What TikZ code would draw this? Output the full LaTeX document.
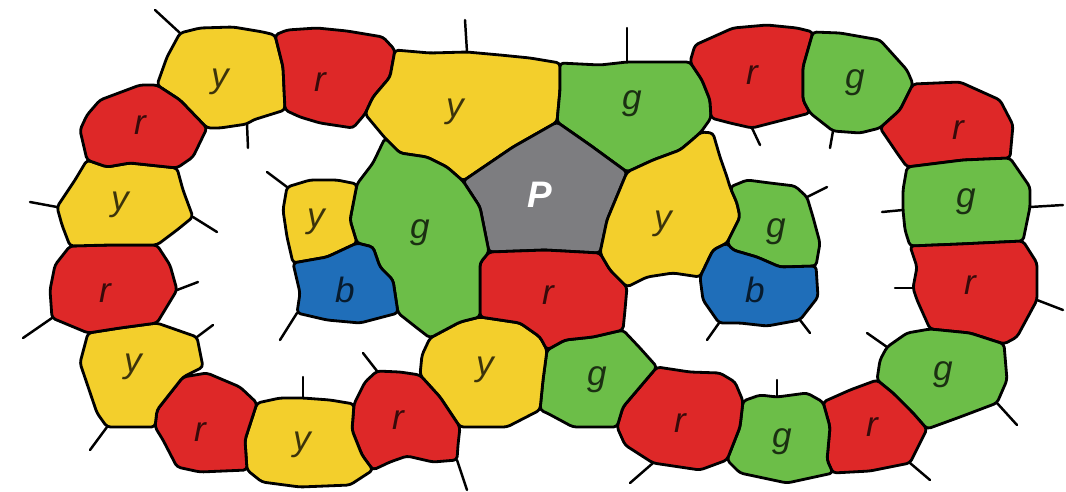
\documentclass[tikz,border=0pt]{standalone}
\usepackage{fontspec}
\newfontfamily\mapfont{Liberation Sans}
\usepackage{tikz}

\definecolor{ylw}{RGB}{243,207,44}
\definecolor{red}{RGB}{222,40,40}
\definecolor{grn}{RGB}{108,190,72}
\definecolor{blu}{RGB}{31,110,185}
\definecolor{gry}{RGB}{125,125,128}

\begin{document}
\begin{tikzpicture}[
    x=0.02cm, y=-0.02cm,
    region/.style={draw=black, line width=1.6pt, line join=round, rounded corners=2pt},
    tick/.style={draw=black, line width=1.4pt, line cap=round},
    lbl/.style={font=\mapfont\itshape\fontsize{20}{24}\selectfont, text=black, text opacity=0.75, inner sep=0pt}
]
    \useasboundingbox (0,0) rectangle (1066,491);

    % Junctions where regions meet
    \coordinate (j1) at (275,35);   \coordinate (j2) at (285,110);
    \coordinate (j3) at (157,85);   \coordinate (j4) at (207,128);
    \coordinate (j5) at (395,50);   \coordinate (j6) at (365,114);
    \coordinate (j7) at (385,138);  \coordinate (j8) at (463,181);
    \coordinate (j9) at (557,122);  \coordinate (j10) at (560,63);
    \coordinate (j11) at (690,62);  \coordinate (j12) at (711,118);
    \coordinate (j13) at (701,132); \coordinate (j14) at (627,172);
    \coordinate (j15) at (600,253); \coordinate (j16) at (489,252);
    \coordinate (j17) at (627,287); \coordinate (j18) at (623,330);
    \coordinate (j19) at (547,350); \coordinate (j20) at (480,317);
    \coordinate (j21) at (430,338); \coordinate (j22) at (398,313);
    \coordinate (j23) at (357,243); \coordinate (j24) at (357,184);
    \coordinate (j25) at (293,263); \coordinate (j26) at (730,187);
    \coordinate (j27) at (727,243); \coordinate (j28) at (700,277);
    \coordinate (j29) at (816,266); \coordinate (j30) at (813,32);
    \coordinate (j31) at (810,113); \coordinate (j32) at (913,84);
    \coordinate (j33) at (880,128); \coordinate (j34) at (907,167);
    \coordinate (j35) at (1010,158);\coordinate (j36) at (910,246);
    \coordinate (j37) at (1023,241);\coordinate (j38) at (930,329);
    \coordinate (j39) at (1004,344);\coordinate (j40) at (877,380);
    \coordinate (j41) at (927,429); \coordinate (j42) at (823,402);
    \coordinate (j43) at (833,473); \coordinate (j44) at (743,401);
    \coordinate (j45) at (727,460); \coordinate (j46) at (657,367);
    \coordinate (j47) at (617,427); \coordinate (j48) at (540,410);
    \coordinate (j49) at (420,375); \coordinate (j50) at (460,427);
    \coordinate (j51) at (354,404); \coordinate (j52) at (373,470);
    \coordinate (j53) at (257,403); \coordinate (j54) at (247,470);
    \coordinate (j55) at (183,377); \coordinate (j56) at (155,427);
    \coordinate (j57) at (88,333);  \coordinate (j58) at (157,323);
    \coordinate (j59) at (70,246);  \coordinate (j60) at (157,245);
    \coordinate (j61) at (87,160);  \coordinate (j62) at (177,168);

    % Roots of the open borders
    \coordinate (t1) at (180,33);   \coordinate (t2) at (247,124);
    \coordinate (t3) at (467,52);   \coordinate (t4) at (627,62);
    \coordinate (t5) at (752,128);  \coordinate (t6) at (833,131);
    \coordinate (t7) at (903,210);  \coordinate (t8) at (1030,207);
    \coordinate (t9) at (913,288);  \coordinate (t10) at (1037,300);
    \coordinate (t11) at (887,347); \coordinate (t12) at (997,403);
    \coordinate (t13) at (910,463); \coordinate (t14) at (777,397);
    \coordinate (t15) at (653,463); \coordinate (t16) at (457,460);
    \coordinate (t17) at (377,371); \coordinate (t18) at (303,398);
    \coordinate (t19) at (107,427); \coordinate (t20) at (197,337);
    \coordinate (t21) at (177,290); \coordinate (t22) at (52,318);
    \coordinate (t23) at (193,217); \coordinate (t24) at (57,207);
    \coordinate (t25) at (287,187); \coordinate (t26) at (297,313);
    \coordinate (t27) at (807,197); \coordinate (t28) at (719,323);
    \coordinate (t29) at (800,320);

    % Outer ring, top
    \filldraw[region, fill=ylw] (j3) -- (167,57) -- (t1) -- (200,28) -- (233,27) -- (263,32) -- (j1) -- (283,67) -- (j2) -- (253,120) -- (t2) -- (220,128) -- (j4) -- (180,100) -- cycle;
    \filldraw[region, fill=red] (j1) -- (287,30) -- (317,28) -- (347,31) -- (383,37) -- (j5) -- (390,77) -- (373,97) -- (j6) -- (353,128) -- (320,123) -- (300,117) -- (j2) -- (283,67) -- cycle;
    \filldraw[region, fill=ylw] (j5) -- (430,53) -- (t3) -- (500,55) -- (530,58) -- (j10) -- (560,90) -- (j9) -- (513,147) -- (j8) -- (447,167) -- (427,157) -- (400,153) -- (j7) -- (375,126) -- (j6) -- (373,97) -- (390,77) -- cycle;
    \filldraw[region, fill=grn] (j10) -- (600,65) -- (t4) -- (660,62) -- (j11) -- (702,80) -- (710,100) -- (j12) -- (j13) -- (692,140) -- (680,150) -- (653,160) -- (j14) -- (590,145) -- (j9) -- (560,90) -- cycle;
    \filldraw[region, fill=red] (j11) -- (695,45) -- (733,28) -- (767,25) -- (797,28) -- (j30) -- (803,67) -- (803,100) -- (j31) -- (783,120) -- (t5) -- (730,123) -- (j12) -- (710,100) -- (702,80) -- cycle;
    \filldraw[region, fill=grn] (j30) -- (840,33) -- (880,40) -- (907,70) -- (j32) -- (900,110) -- (j33) -- (860,133) -- (t6) -- (j31) -- (803,100) -- (803,67) -- cycle;

    % Outer ring, right
    \filldraw[region, fill=red] (j33) -- (900,110) -- (j32) -- (960,82) -- (1000,100) -- (1013,125) -- (j35) -- (963,160) -- (j34) -- (897,153) -- cycle;
    \filldraw[region, fill=grn] (j34) -- (963,160) -- (j35) -- (1030,187) -- (t8) -- (j37) -- (960,244) -- (j36) -- (905,230) -- (t7) -- (903,190) -- cycle;
    \filldraw[region, fill=red] (j36) -- (960,244) -- (j37) -- (1037,263) -- (t10) -- (1017,337) -- (j39) -- (970,333) -- (j38) -- (917,300) -- (t9) -- (917,267) -- cycle;
    \filldraw[region, fill=grn] (j40) -- (880,360) -- (t11) -- (907,333) -- (j38) -- (970,333) -- (j39) -- (1007,380) -- (t12) -- (960,417) -- (j41) -- (913,413) -- (893,393) -- cycle;

    % Outer ring, bottom
    \filldraw[region, fill=red] (j42) -- (850,390) -- (j40) -- (893,393) -- (913,413) -- (j41) -- (t13) -- (870,471) -- (j43) -- (827,460) -- (830,427) -- cycle;
    \filldraw[region, fill=grn] (j44) -- (760,395) -- (t14) -- (807,393) -- (j42) -- (830,427) -- (827,460) -- (j43) -- (787,483) -- (740,473) -- (j45) -- (740,427) -- cycle;
    \filldraw[region, fill=red] (j46) -- (690,372) -- (720,373) -- (735,382) -- (j44) -- (740,427) -- (j45) -- (700,470) -- (t15) -- (625,445) -- (j47) -- (623,407) -- (640,387) -- cycle;
    \filldraw[region, fill=grn] (j19) -- (565,340) -- (593,337) -- (j18) -- (640,348) -- (j46) -- (640,387) -- (623,407) -- (j47) -- (573,427) -- (547,413) -- (j48) -- (543,380) -- cycle;
    \filldraw[region, fill=ylw] (j21) -- (460,322) -- (j20) -- (520,323) -- (540,337) -- (j19) -- (543,380) -- (j48) -- (507,427) -- (473,427) -- (j50) -- (440,397) -- (j49) -- (422,355) -- cycle;
    \filldraw[region, fill=red] (j51) -- (365,382) -- (t17) -- (400,372) -- (j49) -- (440,397) -- (j50) -- (458,445) -- (t16) -- (433,462) -- (407,456) -- (390,462) -- (j52) -- (362,455) -- (352,430) -- cycle;
    \filldraw[region, fill=ylw] (j53) -- (280,398) -- (t18) -- (330,400) -- (j51) -- (352,430) -- (362,455) -- (j52) -- (350,485) -- (300,487) -- (262,482) -- (j54) -- (245,440) -- cycle;
    \filldraw[region, fill=red] (j55) -- (207,373) -- (240,387) -- (j53) -- (245,440) -- (j54) -- (200,472) -- (177,467) -- (163,440) -- (j56) -- (157,410) -- cycle;

    % Outer ring, left
    \filldraw[region, fill=ylw] (j57) -- (120,328) -- (j58) -- (t20) -- (203,367) -- (j55) -- (157,410) -- (j56) -- (t19) -- (97,413) -- (80,363) -- cycle;
    \filldraw[region, fill=red] (j59) -- (110,245) -- (j60) -- (170,265) -- (t21) -- (j58) -- (120,328) -- (j57) -- (t22) -- (50,290) -- (55,265) -- cycle;
    \filldraw[region, fill=ylw] (j61) -- (107,167) -- (130,163) -- (j62) -- (183,190) -- (t23) -- (177,230) -- (j60) -- (110,245) -- (j59) -- (62,225) -- (t24) -- (75,180) -- cycle;
    \filldraw[region, fill=red] (j3) -- (180,100) -- (j4) -- (193,157) -- (j62) -- (130,163) -- (107,167) -- (j61) -- (80,130) -- (87,115) -- (100,100) -- (140,85) -- cycle;

    % Inner regions
    \filldraw[region, fill=gry] (j8) -- (513,147) -- (j9) -- (590,145) -- (j14) -- (607,220) -- (j15) -- (545,250) -- (j16) -- (480,207) -- cycle;
    \filldraw[region, fill=red] (j16) -- (545,250) -- (j15) -- (610,270) -- (j17) -- (625,310) -- (j18) -- (593,337) -- (565,340) -- (j19) -- (540,337) -- (520,323) -- (j20) -- (480,297) -- (480,263) -- cycle;
    \filldraw[region, fill=grn] (j7) -- (400,153) -- (427,157) -- (447,167) -- (j8) -- (480,207) -- (j16) -- (480,263) -- (480,297) -- (j20) -- (460,322) -- (j21) -- (417,328) -- (j22) -- (393,280) -- (380,267) -- (373,247) -- (j23) -- (350,220) -- (j24) -- (373,163) -- cycle;
    \filldraw[region, fill=ylw] (j24) -- (337,180) -- (310,180) -- (t25) -- (283,210) -- (287,237) -- (j25) -- (327,257) -- (j23) -- (350,220) -- cycle;
    \filldraw[region, fill=blu] (j25) -- (327,257) -- (j23) -- (373,247) -- (380,267) -- (393,280) -- (j22) -- (360,323) -- (327,320) -- (t26) -- (300,293) -- cycle;
    \filldraw[region, fill=ylw] (j13) -- (713,133) -- (720,157) -- (727,177) -- (j26) -- (737,203) -- (740,217) -- (j27) -- (713,250) -- (j28) -- (673,273) -- (647,277) -- (j17) -- (610,270) -- (j15) -- (607,220) -- (j14) -- (653,160) -- (680,150) -- (692,140) -- cycle;
    \filldraw[region, fill=grn] (j26) -- (747,180) -- (770,183) -- (795,186) -- (t27) -- (813,217) -- (820,243) -- (j29) -- (780,267) -- (757,257) -- (733,250) -- (j27) -- (740,217) -- (737,203) -- cycle;
    \filldraw[region, fill=blu] (j28) -- (713,250) -- (j27) -- (733,250) -- (757,257) -- (780,267) -- (j29) -- (818,297) -- (t29) -- (767,326) -- (740,323) -- (t28) -- (703,300) -- cycle;

    % Open borders
    \draw[tick] (t1) -- (155,10);   \draw[tick] (t2) -- (248,148);
    \draw[tick] (t3) -- (465,20);   \draw[tick] (t4) -- (627,28);
    \draw[tick] (t5) -- (760,145);  \draw[tick] (t6) -- (830,148);
    \draw[tick] (t7) -- (882,212);  \draw[tick] (t8) -- (1063,205);
    \draw[tick] (t9) -- (895,288);  \draw[tick] (t10) -- (1063,310);
    \draw[tick] (t11) -- (867,333); \draw[tick] (t12) -- (1017,425);
    \draw[tick] (t13) -- (930,480); \draw[tick] (t14) -- (777,380);
    \draw[tick] (t15) -- (630,483); \draw[tick] (t16) -- (467,490);
    \draw[tick] (t17) -- (363,353); \draw[tick] (t18) -- (303,377);
    \draw[tick] (t19) -- (90,450);  \draw[tick] (t20) -- (213,325);
    \draw[tick] (t21) -- (198,282); \draw[tick] (t22) -- (23,338);
    \draw[tick] (t23) -- (217,232); \draw[tick] (t24) -- (30,202);
    \draw[tick] (t25) -- (267,172); \draw[tick] (t26) -- (280,340);
    \draw[tick] (t27) -- (827,187); \draw[tick] (t28) -- (707,340);
    \draw[tick] (t29) -- (810,333);

    % Colour letters
    \node[lbl] (ly1) at (220,82) {y};
    \node[lbl] (lr1) at (320,82) {r};
    \node[lbl] (ly2) at (455,112) {y};
    \node[lbl] (lg1) at (632,104) {g};
    \node[lbl] (lr2) at (752,75) {r};
    \node[lbl] (lg2) at (855,83) {g};
    \node[lbl] (lr3) at (958,130) {r};
    \node[lbl] (lg3) at (966,202) {g};
    \node[lbl] (lr4) at (970,285) {r};
    \node[lbl] (lg4) at (943,375) {g};
    \node[lbl] (lr5) at (872,427) {r};
    \node[lbl] (lg5) at (782,442) {g};
    \node[lbl] (lr6) at (680,423) {r};
    \node[lbl] (lg6) at (597,380) {g};
    \node[lbl] (ly3) at (485,370) {y};
    \node[lbl] (lr7) at (398,420) {r};
    \node[lbl] (ly4) at (302,445) {y};
    \node[lbl] (lr8) at (200,432) {r};
    \node[lbl] (ly5) at (133,367) {y};
    \node[lbl] (lr9) at (105,293) {r};
    \node[lbl] (ly6) at (120,205) {y};
    \node[lbl] (lr10) at (140,125) {r};
    \node[lbl] (ly7) at (316,222) {y};
    \node[lbl] (lb1) at (345,290) {b};
    \node[lbl] (lg7) at (420,233) {g};
    \node[lbl] (lr11) at (548,295) {r};
    \node[lbl] (ly8) at (663,224) {y};
    \node[lbl] (lg8) at (776,232) {g};
    \node[lbl] (lb2) at (755,290) {b};
    \node[lbl, text=white, text opacity=1, font=\mapfont\itshape\bfseries\fontsize{21}{24}\selectfont] (lp) at (540,195) {P};

\end{tikzpicture}
\end{document}
